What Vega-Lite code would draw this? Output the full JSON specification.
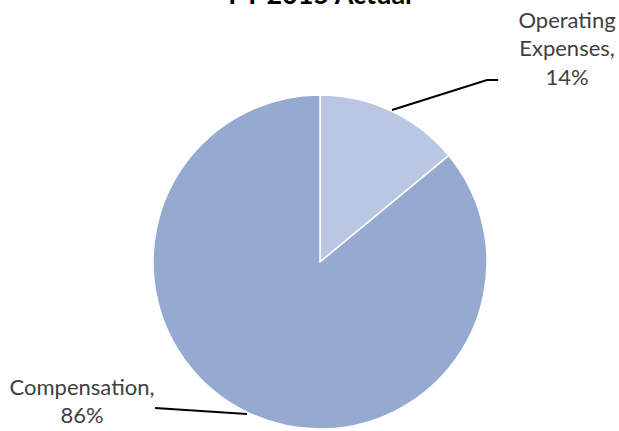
{
  "$schema": "https://vega.github.io/schema/vega-lite/v6.json",
  "width": 640,
  "height": 524,
  "autosize": "none",
  "padding": 0,
  "background": "white",
  "config": {"view": {"stroke": null}},
  "datasets": {
    "slices": [
      {"category": "Operating Expenses", "pct": 14, "order": 1},
      {"category": "Compensation", "pct": 86, "order": 2}
    ],
    "leaders": [
      {"category": "Operating Expenses", "seq": 1, "px": 0.431, "py": 0.910},
      {"category": "Operating Expenses", "seq": 2, "px": 1.0, "py": 1.090},
      {"category": "Operating Expenses", "seq": 3, "px": 1.066, "py": 1.090},
      {"category": "Compensation", "seq": 1, "px": -0.988, "py": -0.874},
      {"category": "Compensation", "seq": 2, "px": -0.437, "py": -0.910}
    ],
    "labels": [
      {"label": "Operating\nExpenses,\n14%", "px": 1.479, "py": 1.446},
      {"label": "Compensation,\n86%", "px": -1.425, "py": -0.752}
    ],
    "titles": [
      {"title": "FY 2015 Actual", "px": 0.0, "py": 1.545}
    ]
  },
  "resolve": {"scale": {"x": "shared", "y": "shared"}},
  "layer": [
    {
      "data": {"name": "slices"},
      "mark": {"type": "arc", "radius": 167, "stroke": "white", "strokeWidth": 1.5},
      "encoding": {
        "theta": {"field": "pct", "type": "quantitative", "stack": true},
        "order": {"field": "order"},
        "color": {"field": "category", "type": "nominal", "legend": null,
          "scale": {"domain": ["Operating Expenses", "Compensation"], "range": ["#bac7e2", "#95a9d1"]}}
      }
    },
    {
      "data": {"name": "leaders"},
      "mark": {"type": "line", "color": "#000000", "strokeWidth": 2},
      "encoding": {
        "x": {"field": "px", "type": "quantitative", "axis": null, "scale": {"domain": [-1.916, 1.916], "nice": false, "zero": false}},
        "y": {"field": "py", "type": "quantitative", "axis": null, "scale": {"domain": [-1.569, 1.569], "nice": false, "zero": false}},
        "detail": {"field": "category"},
        "order": {"field": "seq"}
      }
    },
    {
      "data": {"name": "labels"},
      "mark": {"type": "text", "font": "Lato", "fontSize": 22, "color": "#404040", "lineBreak": "\n", "lineHeight": 28.5, "align": "center", "baseline": "middle"},
      "encoding": {
        "x": {"field": "px", "type": "quantitative", "axis": null},
        "y": {"field": "py", "type": "quantitative", "axis": null},
        "text": {"field": "label"}
      }
    },
    {
      "data": {"name": "titles"},
      "mark": {"type": "text", "font": "Lato", "fontSize": 27, "fontWeight": "bold", "color": "#000000", "align": "center", "baseline": "alphabetic"},
      "encoding": {
        "x": {"field": "px", "type": "quantitative", "axis": null},
        "y": {"field": "py", "type": "quantitative", "axis": null},
        "text": {"field": "title"}
      }
    }
  ]
}
